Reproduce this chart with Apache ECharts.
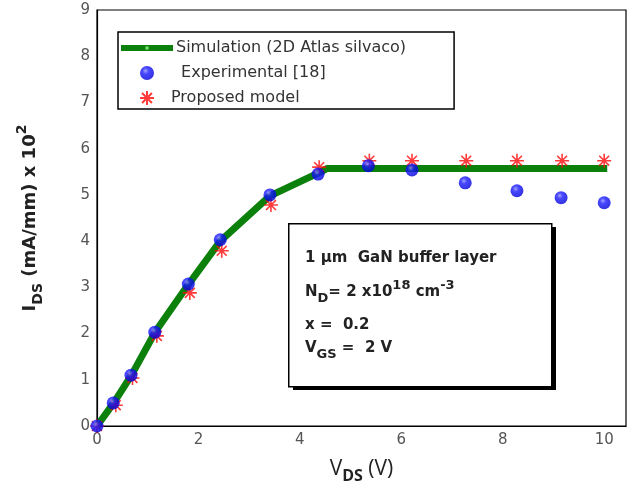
<!DOCTYPE html>
<html>
<head>
<meta charset="utf-8">
<script src="https://cdn.jsdelivr.net/npm/echarts@6/dist/echarts.min.js"></script>
<style>
  html, body { margin: 0; padding: 0; background: #fff; }
  #chart { width: 632px; height: 493px; }
</style>
</head>
<body>
<div id="chart"></div>
<script>
// I-V characteristics of the HEMT: drain current vs drain-source voltage
const xTicks = [0, 2, 4, 6, 8, 10];
const yTicks = [0, 1, 2, 3, 4, 5, 6, 7, 8, 9];

// 2D Atlas Silvaco simulation
const simVds = [0, 0.33, 0.68, 1.15, 1.8, 2.43, 3.41, 4.36, 4.53, 10.06];
const simIds = [0, 0.5, 1.1, 2.04, 3.06, 4.0, 4.98, 5.47, 5.57, 5.57];

// Experimental data [18]
const expVds = [0, 0.32, 0.67, 1.14, 1.8, 2.43, 3.41, 4.36, 5.35, 6.21, 7.26, 8.28, 9.15, 10.0];
const expIds = [0, 0.5, 1.1, 2.03, 3.07, 4.03, 5.0, 5.45, 5.63, 5.54, 5.26, 5.09, 4.94, 4.83];

// Proposed analytical model
const modVds = [0, 0.37, 0.7, 1.18, 1.83, 2.46, 3.43, 4.38, 5.37, 6.21, 7.28, 8.28, 9.17, 10.0];
const modIds = [0, 0.45, 1.04, 1.95, 2.88, 3.79, 4.78, 5.6, 5.74, 5.74, 5.74, 5.74, 5.74, 5.74];

const seriesNames = ['Simulation (2D Atlas silvaco)', ' Experimental [18]', 'Proposed model'];

const pairs = (xs, ys) => xs.map((x, i) => [x, ys[i]]);

const FONT = 'DejaVu Sans';
const asterisk = 'path://M0,-10L0,10M-10,0L10,0M-7.07,-7.07L7.07,7.07M-7.07,7.07L7.07,-7.07';
// tiny square in a 10x10 frame: gives the small light dot on the legend line
const legendDot = 'path://M0,0M10,10M3.6,3.6L6.4,3.6L6.4,6.4L3.6,6.4Z';

const chart = echarts.init(document.getElementById('chart'), null, { renderer: 'canvas' });

const axisCommon = {
  axisLine: { show: true, lineStyle: { color: '#000', width: 1.2 } },
  axisTick: { show: false },
  splitLine: { show: false },
  axisLabel: { color: '#555', fontSize: 15, fontFamily: FONT, margin: 7 }
};

const boxFont = 'bold 15px "DejaVu Sans"';
const boxSub = 'bold 13px "DejaVu Sans"';

const option = {
  backgroundColor: '#fff',
  animation: false,
  grid: {
    left: 97, right: 6, top: 10, bottom: 67,
    show: true, borderColor: '#000', borderWidth: 1.2, backgroundColor: 'transparent'
  },
  xAxis: Object.assign({}, axisCommon, {
    type: 'value', min: 0, max: 10.43, interval: 2,
    axisLabel: Object.assign({}, axisCommon.axisLabel, {
      showMaxLabel: false,
      formatter: v => (xTicks.indexOf(v) >= 0 ? String(v) : '')
    }),
    name: '{v|V}{sub|DS}{v| (V)}',
    nameLocation: 'middle',
    nameGap: 28,
    nameTextStyle: {
      rich: {
        v: { fontFamily: 'Open Sans', fontSize: 21, color: '#222', lineHeight: 30, verticalAlign: 'middle' },
        sub: { fontFamily: 'Open Sans', fontWeight: 'bold', fontSize: 16, color: '#222', lineHeight: 16, verticalAlign: 'bottom' }
      }
    }
  }),
  yAxis: Object.assign({}, axisCommon, {
    type: 'value', min: 0, max: 9, interval: 1,
    axisLabel: Object.assign({}, axisCommon.axisLabel, {
      formatter: v => (yTicks.indexOf(v) >= 0 ? String(v) : '')
    }),
    name: '{t|I}{sub|DS}{t| (mA/mm) x 10}{sup|2}',
    nameLocation: 'middle',
    nameRotate: 90,
    nameGap: 52,
    nameTextStyle: {
      rich: {
        t: { fontFamily: FONT, fontWeight: 'bold', fontSize: 18, color: '#222', lineHeight: 30, verticalAlign: 'middle' },
        sub: { fontFamily: FONT, fontWeight: 'bold', fontSize: 14, color: '#222', lineHeight: 15, verticalAlign: 'bottom' },
        sup: { fontFamily: FONT, fontWeight: 'bold', fontSize: 14, color: '#222', lineHeight: 10, verticalAlign: 'top' }
      }
    }
  }),
  legend: {
    left: 118, top: 32,
    orient: 'vertical',
    itemWidth: 52, itemHeight: 14, itemGap: 9,
    padding: [8, 48, 3, 0],
    borderColor: '#000', borderWidth: 1.5, borderRadius: 0,
    backgroundColor: '#fff',
    textStyle: { fontFamily: FONT, fontSize: 16, color: '#333', padding: [0, 0, 0, -2] },
    data: [
      { name: seriesNames[0], lineStyle: { width: 6, color: '#0b800b' } },
      { name: seriesNames[1] },
      { name: seriesNames[2], textStyle: { padding: [0, 0, 0, -7] } }
    ]
  },
  series: [
    {
      name: seriesNames[0],
      type: 'line',
      data: pairs(simVds, simIds),
      showSymbol: false,
      symbol: legendDot,
      itemStyle: { color: '#7ce36a' },
      lineStyle: { color: '#0b800b', width: 7 },
      z: 2
    },
    {
      name: seriesNames[2],
      type: 'scatter',
      data: pairs(modVds, modIds),
      symbol: asterisk,
      symbolSize: 14,
      itemStyle: { color: '#ff0000', borderColor: '#ff0a0a', borderWidth: 1.6 },
      z: 3
    },
    {
      name: seriesNames[1],
      type: 'scatter',
      data: pairs(expVds, expIds),
      symbol: 'circle',
      symbolSize: 13,
      itemStyle: {
        color: {
          type: 'radial', x: 0.4, y: 0.35, r: 0.65,
          colorStops: [
            { offset: 0, color: '#8c8cff' },
            { offset: 0.35, color: '#1a1aff' },
            { offset: 1, color: '#0000d8' }
          ]
        }
      },
      z: 4
    }
  ],
  graphic: [
    // parameter box with its drop shadow
    { type: 'rect', left: 293, top: 227, shape: { width: 263, height: 163 }, style: { fill: '#000' }, z: 10 },
    { type: 'rect', left: 288, top: 223, shape: { width: 263, height: 163 }, style: { fill: '#fff', stroke: '#000', lineWidth: 1.5 }, z: 11 },
    {
      type: 'text', left: 305, top: 251, z: 12,
      style: { text: '1 µm  GaN buffer layer', font: boxFont, fill: '#222' }
    },
    {
      type: 'text', left: 305, top: 279, z: 12,
      style: {
        text: '{b|N}{sub|D}{b|= 2 x10}{sup|18}{b| cm}{sup|-3}',
        rich: {
          b: { font: boxFont, fill: '#222', lineHeight: 26, verticalAlign: 'middle' },
          sub: { font: boxSub, fill: '#222', lineHeight: 16, verticalAlign: 'bottom' },
          sup: { font: boxSub, fill: '#222', lineHeight: 8, verticalAlign: 'top' }
        }
      }
    },
    {
      type: 'text', left: 305, top: 318, z: 12,
      style: { text: 'x =  0.2', font: boxFont, fill: '#222' }
    },
    {
      type: 'text', left: 305, top: 341, z: 12,
      style: {
        text: '{b|V}{sub|GS}{b| =  2 V}',
        rich: {
          b: { font: boxFont, fill: '#222', lineHeight: 26, verticalAlign: 'middle' },
          sub: { font: boxSub, fill: '#222', lineHeight: 16, verticalAlign: 'bottom' }
        }
      }
    }
  ]
};

chart.setOption(option);
</script>
</body>
</html>
